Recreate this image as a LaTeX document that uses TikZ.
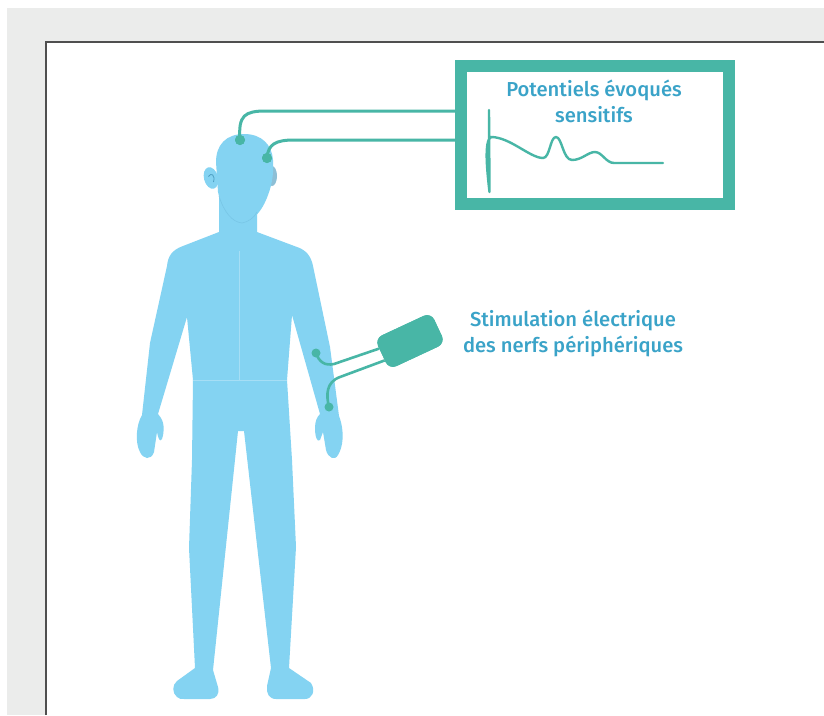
\documentclass[tikz,border=0pt]{standalone}
\usepackage{fontspec}
\setmainfont{Fira Sans Medium}
\usetikzlibrary{calc}
\definecolor{bgGray}{HTML}{EBECEB}
\definecolor{frameLine}{HTML}{4F4F4F}
\definecolor{skin}{HTML}{84D3F2}
\definecolor{skinLine}{HTML}{A6DEF5}
\definecolor{jawLine}{HTML}{78C6E6}
\definecolor{earShade}{HTML}{8DBFD6}
\definecolor{earMark}{HTML}{4E9FC2}
\definecolor{probeTeal}{HTML}{48B6A6}
\definecolor{labelBlue}{HTML}{3AA3C8}
\begin{document}
\begin{tikzpicture}[x=1pt,y=-1pt,
  bodypart/.style={fill=skin},
  seam/.style={draw=skinLine, line width=0.9pt},
  wire/.style={draw=probeTeal, line width=3pt},
  thinwire/.style={draw=probeTeal, line width=2.6pt},
  electrode/.style={circle, fill=probeTeal, inner sep=0pt, minimum size=#1},
  electrode/.default=10pt,
  label/.style={text=labelBlue, align=center, font=\fontsize{20.2}{26}\selectfont},
  recorder/.style={draw=probeTeal, line width=12.5pt, inner sep=0pt,
    minimum width=268pt, minimum height=138pt},
  stimulator/.style={fill=probeTeal, rounded corners=8pt, inner sep=0pt,
    minimum width=62pt, minimum height=34pt},
  trace/.style={draw=probeTeal, line width=2.4pt, line join=round, line cap=round}]
\useasboundingbox (0,0) rectangle (824,715);
% sheet and frame
\fill[white] (0,0) rectangle (824,715);
\fill[bgGray] (7,8) rectangle (824,715);
\fill[white] (45.5,42) rectangle (824,715);
\draw[frameLine, line width=2pt] (45.5,715) -- (45.5,42) -- (824,42);

% ears (the far one sits behind the head)
\fill[earShade] (272,176) ellipse [x radius=5, y radius=10];
\fill[skin, rotate around={15:(211,178)}] (211,178) ellipse [x radius=7, y radius=11];
% head
\fill[skin] (244,134) .. controls (226,134) and (216,145) .. (216,162)
  -- (218,192) .. controls (222,210) and (232,222) .. (242,223)
  .. controls (252,222) and (262,212) .. (268,195)
  .. controls (272,185) and (274,172) .. (273,160)
  .. controls (272,145) and (262,134) .. (244,134) -- cycle;
\draw[earMark, line width=0.8pt] (208.5,176.5) .. controls (211,172) and (215.5,175) .. (213.5,182);

% torso, arms and legs
\fill[skin] (219,198) -- (219,232) -- (183,246)
  .. controls (172,250) and (168,256) .. (167,266)
  -- (150,343) -- (142,415)
  .. controls (136,425) and (135,443) .. (140,452)
  .. controls (143,459) and (151,461) .. (154,452)
  -- (157,432)
  .. controls (158,438) and (160,443) .. (162,439)
  .. controls (164,434) and (164,426) .. (163,423)
  .. controls (162,419) and (160,416) .. (158,414)
  -- (187,317) -- (193,380) -- (192,460) -- (189,548) -- (195,668)
  -- (177,681) .. controls (172,685) and (172,693) .. (177,697)
  .. controls (179,699) and (181,699) .. (184,699)
  -- (210,699) .. controls (216,699) and (220,694) .. (218,687)
  -- (213,670) -- (238,431) -- (244,431) -- (271,668)
  -- (267,686) .. controls (266,693) and (269,699) .. (276,699)
  -- (305,699) .. controls (312,699) and (316,691) .. (311,683)
  -- (289,668) -- (296,547) -- (292,460) -- (287,380) -- (292,315)
  -- (320,414)
  .. controls (317,417) and (315,421) .. (315,428)
  .. controls (315,436) and (317,443) .. (320,440)
  -- (323,432)
  -- (326,450) .. controls (328,458) and (335,461) .. (338,455)
  .. controls (343,447) and (345,432) .. (339,416)
  -- (330,347) -- (313,266)
  .. controls (311,256) and (306,250) .. (297,247)
  -- (257,232) -- (257,198) -- cycle;
% seams on the torso and the line of the jaw
\draw[seam] (239,251) -- (239,380);
\draw[seam] (193,380) -- (287,380);
\draw[jawLine, line width=0.6pt] (219,196) .. controls (224,212) and (232,222) .. (242,223)
  .. controls (248,222) and (254,218) .. (257,212);

% recording window
\coordinate (k1) at (266,111);
\coordinate (k2) at (294,140);
\node[electrode] (eh1) at (240,140) {};
\node[electrode] (eh2) at (267,158) {};
\node[recorder] (epbox) at (595,135) {};
\draw[wire] (eh1.center) .. controls (238,115) and (245,111) .. (k1) -- (k1 -| epbox.west);
\draw[wire] (eh2.center) .. controls (268,144) and (276,140) .. (k2) -- (k2 -| epbox.west);
\node[recorder] at (epbox) {};
\node[electrode] at (eh1) {};
\node[electrode] at (eh2) {};
\node[label] (eptitle) at (594,101) {Potentiels évoqués\\sensitifs};
\draw[trace] (489,110) -- (489.5,192)
  .. controls (487,170) and (484,141) .. (491,137)
  .. controls (510,137) and (530,158) .. (543,158)
  .. controls (550,158) and (550,137) .. (556,137)
  .. controls (562,137) and (563,160) .. (572,160)
  .. controls (582,160) and (588,152) .. (595,152)
  .. controls (602,152) and (606,163) .. (614,163)
  -- (663,163);

% stimulator on the forearm
\node[stimulator, rotate=25] (stim) at (410,341) {};
\coordinate (s1) at ($(stim.north west)!0.32!(stim.south west)$);
\coordinate (s2) at ($(stim.north west)!0.7!(stim.south west)$);
\node[electrode=9pt] (ea1) at (316,353) {};
\node[electrode=9pt] (ea2) at (329,407) {};
\coordinate (b1) at (334,364);
\coordinate (b2) at (340,377);
\draw[thinwire] (ea1.center) .. controls (319,362) and (325,366) .. (b1) -- (s1);
\draw[thinwire] (ea2.center) .. controls (326,395) and (326,382) .. (b2) -- (s2);
\node[stimulator, rotate=25] at (stim) {};
\node[label] (stimtext) at (573,333) {Stimulation électrique\\des nerfs périphériques};
\end{tikzpicture}
\end{document}
